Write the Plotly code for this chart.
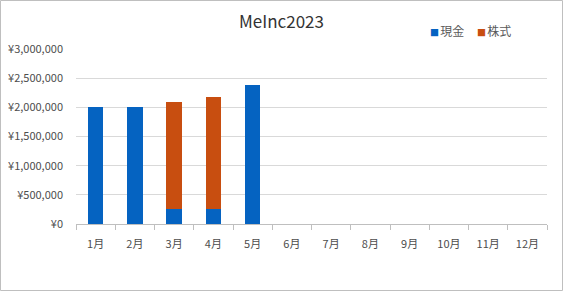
import plotly.graph_objects as go

months = ["1月", "2月", "3月", "4月", "5月", "6月", "7月", "8月", "9月", "10月", "11月", "12月"]
cash = [2000000, 2000000, 250000, 250000, 2390000, None, None, None, None, None, None, None]
stock = [None, None, 1840000, 1930000, None, None, None, None, None, None, None, None]
yticks = [0, 500000, 1000000, 1500000, 2000000, 2500000, 3000000]
ytick_labels = ["¥0", "¥500,000", "¥1,000,000", "¥1,500,000", "¥2,000,000", "¥2,500,000", "¥3,000,000"]
series_names = ["現金", "株式"]

FONT = "Noto Sans CJK JP, Noto Sans, sans-serif"
BLUE, ORANGE = "#0563C1", "#C84E10"
L, R, T, B = 76, 16, 49, 67
W, H = 563, 291
pw, ph = W - L - R, H - T - B

fig = go.Figure()
fig.add_trace(go.Bar(x=months, y=cash, name=series_names[0], marker=dict(color=BLUE, line=dict(width=0))))
fig.add_trace(go.Bar(x=months, y=stock, name=series_names[1], marker=dict(color=ORANGE, line=dict(width=0))))

# legend drawn as text annotations (square glyph + label)
legend_ann = []
for name, col, xpx in [(series_names[0], BLUE, 428), (series_names[1], ORANGE, 475)]:
    legend_ann.append(dict(
        xref="paper", yref="paper", x=(xpx - L) / pw, y=1 + (49 - 30) / ph,
        xanchor="left", yanchor="middle", showarrow=False,
        text=f'<span style="color:{col};font-size:9px">■</span><span style="font-size:5px"> </span>{name}',
        font=dict(family=FONT, size=12, color="#595959")))

fig.update_layout(
    width=W, height=H,
    margin=dict(l=L, r=R, t=T, b=B, pad=0, autoexpand=False),
    barmode="stack", bargap=0.6,
    paper_bgcolor="white", plot_bgcolor="white",
    font=dict(family=FONT, size=11, color="#4D4D4D"),
    title=dict(text="MeInc2023", x=0.5, xanchor="center", y=1 - 22 / H, yanchor="middle",
               font=dict(family=FONT, size=17, color="#333333")),
    showlegend=False,
    annotations=legend_ann,
    xaxis=dict(type="category", showgrid=False, showline=True, linecolor="#BFBFBF", linewidth=1,
               ticks="outside", tickson="boundaries", ticklen=5, tickcolor="#BFBFBF",
               ticklabelstandoff=10, fixedrange=True),
    yaxis=dict(range=[0, 3000000], tickvals=yticks, ticktext=ytick_labels,
               showgrid=True, gridcolor="#D9D9D9", gridwidth=1, zeroline=False, showline=False,
               ticks="", ticklabelstandoff=12, fixedrange=True),
    shapes=[dict(type="rect", xref="paper", yref="paper",
                 x0=-(L - 0.5) / pw, x1=1 + (R - 0.5) / pw, y0=-(B - 0.5) / ph, y1=1 + (T - 0.5) / ph,
                 line=dict(color="#BFBFBF", width=1), fillcolor="rgba(0,0,0,0)", layer="below")],
)

fig.write_html("out.html", config={"displayModeBar": False})
